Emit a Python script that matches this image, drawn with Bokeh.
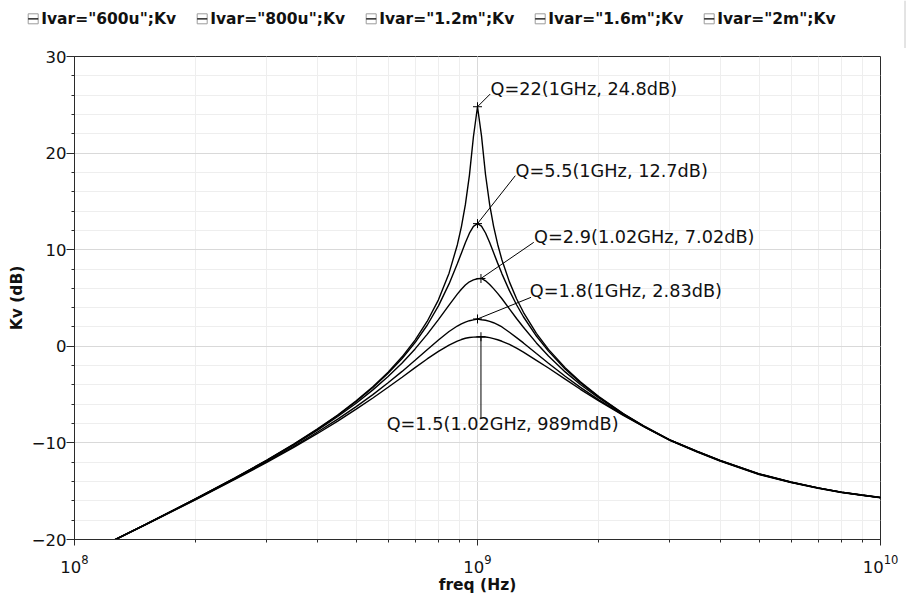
from bokeh.plotting import figure
from bokeh.layouts import column
from bokeh.models import (Range1d, ColumnDataSource, SingleIntervalTicker, LogTicker)
from bokeh.core.properties import value
from bokeh.embed import file_html
from bokeh.resources import INLINE

# ---------------- data ----------------
freq_hz = [1.2e8, 1.5e8, 2.0e8, 2.5e8, 3.0e8, 3.5e8, 4.0e8, 4.5e8, 5.0e8, 5.5e8,
           6.0e8, 6.5e8, 7.0e8, 7.5e8, 8.0e8, 8.5e8, 8.91e8, 9.12e8, 9.33e8, 9.55e8,
           9.77e8, 1.0e9, 1.023e9, 1.047e9, 1.072e9, 1.096e9, 1.122e9, 1.15e9, 1.2e9, 1.25e9,
           1.3e9, 1.4e9, 1.5e9, 1.65e9, 1.8e9, 2.0e9, 2.3e9, 2.6e9, 3.0e9, 3.5e9,
           4.0e9, 5.0e9, 6.0e9, 7.0e9, 8.0e9, 9.0e9, 1.0e10]

kv_2m = [-20.45, -18.44, -15.78, -13.63, -11.79, -10.13, -8.58, -7.11, -5.65, -4.19,
         -2.68, -1.09, 0.64, 2.57, 4.81, 7.57, 10.49, 12.37, 14.66, 17.72,
         21.69, 24.80, 21.81, 17.76, 14.67, 12.45, 10.57, 8.93, 6.67, 4.92,
         3.52, 1.34, -0.32, -2.21, -3.68, -5.21, -6.96, -8.30, -9.68, -10.85,
         -11.80, -13.20, -14.05, -14.65, -15.10, -15.40, -15.65]

kv_1p6m = [-20.45, -18.44, -15.78, -13.64, -11.80, -10.15, -8.62, -7.15, -5.71, -4.27,
           -2.80, -1.26, 0.39, 2.18, 4.19, 6.46, 8.54, 9.64, 10.71, 11.71,
           12.42, 12.70, 12.44, 11.73, 10.74, 9.70, 8.61, 7.50, 5.76, 4.30,
           3.06, 1.06, -0.50, -2.34, -3.76, -5.25, -6.98, -8.31, -9.69, -10.86,
           -11.81, -13.21, -14.06, -14.65, -15.10, -15.40, -15.65]

kv_1p2m = [-20.45, -18.45, -15.80, -13.67, -11.84, -10.21, -8.70, -7.27, -5.89, -4.51,
           -3.13, -1.72, -0.27, 1.23, 2.76, 4.27, 5.40, 5.91, 6.34, 6.68,
           6.87, 6.99, 7.02, 6.78, 6.40, 5.97, 5.48, 4.92, 3.88, 2.88,
           1.97, 0.35, -1.00, -2.65, -3.95, -5.35, -7.02, -8.33, -9.70, -10.88,
           -11.83, -13.23, -14.07, -14.66, -15.11, -15.41, -15.66]

kv_800u = [-20.47, -18.47, -15.84, -13.73, -11.94, -10.35, -8.90, -7.54, -6.24, -5.00,
           -3.78, -2.60, -1.45, -0.35, 0.66, 1.53, 2.10, 2.33, 2.51, 2.65,
           2.74, 2.83, 2.75, 2.70, 2.58, 2.44, 2.25, 2.00, 1.45, 0.90,
           0.35, -0.75, -1.75, -3.10, -4.25, -5.55, -7.10, -8.36, -9.72, -10.90,
           -11.86, -13.25, -14.09, -14.68, -15.12, -15.42, -15.67]

kv_600u = [-20.48, -18.49, -15.87, -13.78, -12.01, -10.46, -9.05, -7.74, -6.51, -5.35,
           -4.24, -3.20, -2.21, -1.31, -0.52, 0.13, 0.54, 0.70, 0.83, 0.91,
           0.95, 0.97, 0.989, 0.96, 0.90, 0.80, 0.68, 0.52, 0.20, -0.20,
           -0.60, -1.45, -2.25, -3.40, -4.45, -5.65, -7.15, -8.38, -9.74, -10.92,
           -11.88, -13.27, -14.11, -14.69, -15.13, -15.43, -15.68]

series_labels = ['Ivar="600u";Kv', 'Ivar="800u";Kv', 'Ivar="1.2m";Kv',
                 'Ivar="1.6m";Kv', 'Ivar="2m";Kv']
series_values = [kv_600u, kv_800u, kv_1p2m, kv_1p6m, kv_2m]

# peak markers (Q, frequency, level)
peak_q = ["22", "5.5", "2.9", "1.8", "1.5"]
peak_freq = [1.0e9, 1.0e9, 1.02e9, 1.0e9, 1.02e9]
peak_freq_txt = ["1GHz", "1GHz", "1.02GHz", "1GHz", "1.02GHz"]
peak_db = [24.8, 12.7, 7.02, 2.83, 0.989]
peak_db_txt = ["24.8dB", "12.7dB", "7.02dB", "2.83dB", "989mdB"]

# label anchor positions (data units) and leader ends
label_x = [1.077e9, 1.243e9, 1.382e9, 1.348e9, 5.95e8]
label_y = [26.63, 18.18, 11.35, 5.76, -8.03]
leader_x = [1.075e9, 1.241e9, 1.379e9, 1.358e9, 1.02e9]
leader_y = [26.11, 17.66, 10.76, 5.07, -7.48]

FONT = "DejaVu Sans"
W = 907
LEG_H = 48
H = 599 - LEG_H
LEFT, RIGHT, TOP, BOTTOM = 74, 27, 8, 60

# ---------------- legend strip (own small figure, pixel-like units) ----------------
leg = figure(frame_width=W, frame_height=LEG_H,
             x_range=Range1d(0, W), y_range=Range1d(LEG_H, 0),
             output_backend="svg", toolbar_location=None,
             x_axis_location=None, y_axis_location=None,
             min_border=0, min_border_left=0, min_border_right=0,
             min_border_top=0, min_border_bottom=0)
leg.grid.visible = False
leg.outline_line_color = None
leg.background_fill_color = "white"
leg.border_fill_color = "white"

leg_x0, leg_step, box_w, leg_cy, txt_gap = 27.7, 169.0, 10.0, 18.3, 13.0
n = len(series_labels)
box_left = [leg_x0 + i * leg_step for i in range(n)]
box_right = [b + box_w for b in box_left]
leg.quad(left=box_left, right=box_right,
         top=[leg_cy - box_w / 2] * n, bottom=[leg_cy + box_w / 2] * n,
         fill_color="white", line_color="#9c9c9c", line_width=1)
leg.segment(x0=box_left, x1=box_right, y0=[leg_cy] * n, y1=[leg_cy] * n,
            line_color="black", line_width=1.2)
leg.text(x=[b + txt_gap for b in box_left], y=[leg_cy] * n, text=series_labels,
         text_font=value(FONT), text_font_size="15.5px", text_font_style="bold",
         text_color="#111111", text_baseline="middle", text_align="left")
# thin window edge seen at the right of the legend strip
leg.segment(x0=[904.5], x1=[904.5], y0=[0], y1=[LEG_H], line_color="#c8c8c8",
            line_width=1)

# ---------------- main plot ----------------
p = figure(width=W, height=H, x_axis_type="log",
           x_range=Range1d(1e8, 1e10), y_range=Range1d(-20, 30),
           output_backend="svg", toolbar_location=None,
           min_border_left=LEFT, min_border_right=RIGHT,
           min_border_top=TOP, min_border_bottom=BOTTOM)
p.background_fill_color = "white"
p.border_fill_color = "white"
p.outline_line_color = "#2b2b2b"
p.outline_line_width = 1

# keep the two stacked figures from aligning their frames
for fig in (leg, p):
    try:
        fig.frame_align = False
    except Exception:
        pass

p.xaxis.ticker = LogTicker(num_minor_ticks=10)
p.yaxis.ticker = SingleIntervalTicker(interval=10, num_minor_ticks=5)
for ax in (p.xaxis[0], p.yaxis[0]):
    ax.axis_line_color = "#2b2b2b"
    ax.major_tick_line_color = "#2b2b2b"
    ax.minor_tick_line_color = "#2b2b2b"
    ax.major_tick_in = 0
    ax.minor_tick_in = 0
    ax.major_label_text_font = FONT
    ax.major_label_text_font_size = "16.5px"
    ax.major_label_text_color = "#111111"
    ax.axis_label_text_font = FONT
    ax.axis_label_text_font_size = "15.5px"
    ax.axis_label_text_font_style = "bold"
    ax.axis_label_text_color = "#111111"
p.xaxis.major_tick_out = 6
p.xaxis.minor_tick_out = 3
p.xaxis.major_label_standoff = 9
p.xaxis.axis_label = "freq (Hz)"
p.xaxis.axis_label_standoff = 0
p.yaxis.major_tick_out = 8
p.yaxis.minor_tick_out = 3
p.yaxis.major_label_standoff = 0
p.yaxis.axis_label = "Kv (dB)"
p.yaxis.axis_label_standoff = 3

for g in (p.xgrid[0], p.ygrid[0]):
    g.grid_line_color = "#d9d9d9"
    g.grid_line_width = 1
    g.minor_grid_line_color = "#eeeeee"
    g.minor_grid_line_width = 1

for name, vals in zip(series_labels, series_values):
    src = ColumnDataSource(dict(f=freq_hz, kv=vals))
    p.line("f", "kv", source=src, line_color="black", line_width=1.4)

p.scatter(peak_freq, peak_db, marker="cross", size=9, line_color="black",
          line_width=1)
p.segment(x0=peak_freq, y0=peak_db, x1=leader_x, y1=leader_y,
          line_color="black", line_width=1)
texts = ["Q=%s(%s, %s)" % (q, f, d) for q, f, d in zip(peak_q, peak_freq_txt, peak_db_txt)]
p.text(x=label_x, y=label_y, text=texts, text_font=value(FONT),
       text_font_size="17.7px", text_color="#111111",
       text_baseline="middle", text_align="left")

layout = column(leg, p, spacing=0)
open("out.html", "w").write(file_html(layout, INLINE))
